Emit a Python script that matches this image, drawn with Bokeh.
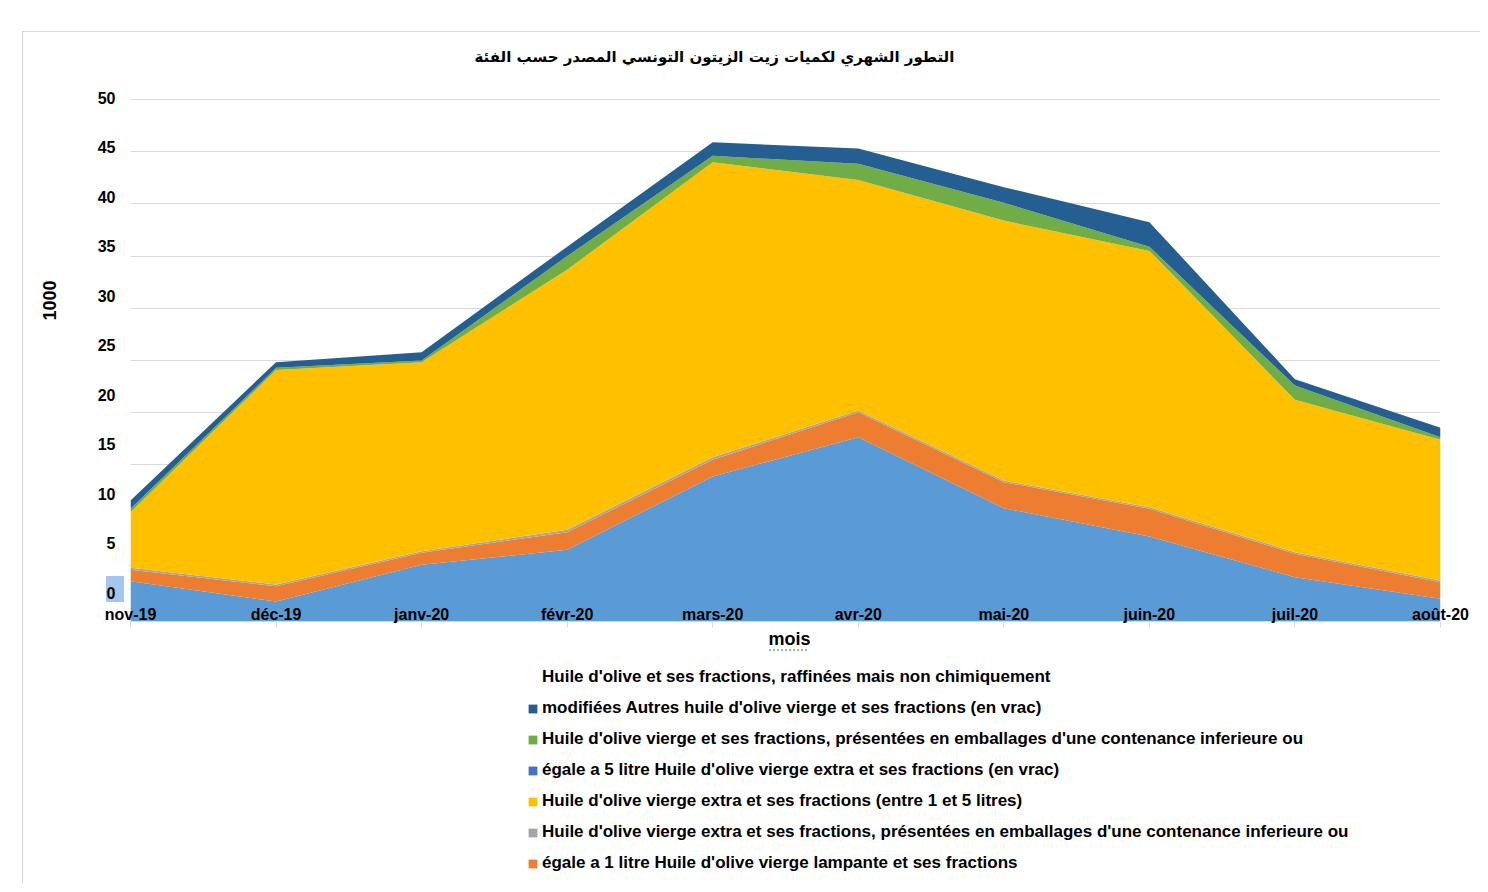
from bokeh.plotting import figure
from bokeh.layouts import column
from bokeh.models import (Range1d, LinearAxis, FixedTicker, Grid, Title,
                          Legend, LegendItem, ColumnDataSource)
from bokeh.embed import file_html
from bokeh.resources import INLINE

# ---------------- data (thousand tonnes) ----------------
months = ["nov-19", "déc-19", "janv-20", "févr-20", "mars-20",
          "avr-20", "mai-20", "juin-20", "juil-20", "août-20"]

lampante      = [3.86, 1.92, 5.43, 6.87, 13.90, 17.65, 10.85, 8.14, 4.25, 2.17]
extra_1l      = [1.09, 1.46, 1.15, 1.68, 1.60, 2.40, 2.50, 2.66, 2.23, 1.60]
extra_1_5l    = [0.19, 0.16, 0.15, 0.23, 0.24, 0.15, 0.15, 0.15, 0.16, 0.16]
extra_vrac    = [5.33, 20.56, 18.11, 24.92, 28.26, 22.10, 24.90, 24.55, 14.61, 13.47]
vierge_5l     = [0.0, 0.0, 0.0, 0.0, 0.0, 0.0, 0.0, 0.0, 0.0, 0.0]
autres_vrac   = [0.33, 0.20, 0.16, 1.30, 0.60, 1.55, 1.70, 0.40, 1.35, 0.25]
raffinee      = [0.80, 0.54, 0.80, 0.90, 1.30, 1.45, 1.50, 2.35, 0.60, 0.90]

y_ticks = [0, 5, 10, 15, 20, 25, 30, 35, 40, 45, 50]

title_text = "التطور الشهري لكميات زيت الزيتون التونسي المصدر حسب الفئة"
x_title = "mois"
y_title = "1000"

legend_lines = [
    "Huile d'olive et ses fractions, raffinées mais non chimiquement",
    "modifiées Autres huile d'olive vierge et ses fractions (en vrac)",
    "Huile d'olive vierge et ses fractions, présentées en emballages d'une contenance inferieure ou",
    "égale a 5 litre Huile d'olive vierge extra et ses fractions (en vrac)",
    "Huile d'olive vierge extra et ses fractions (entre 1 et 5 litres)",
    "Huile d'olive vierge extra et ses fractions, présentées en emballages d'une contenance inferieure ou",
    "égale a 1 litre Huile d'olive vierge lampante et ses fractions",
]

# ---------------- main figure ----------------
FONT = "Liberation Sans"
W, H1, H2 = 1480, 660, 224
ML, MR, MT, MB = 130, 40, 96, 39
FH = H1 - MT - MB           # 525 px
Y_TOP = 50.287              # so that the 50 gridline sits 3px below frame top

p = figure(width=W, height=H1, output_backend="svg", toolbar_location=None,
           x_range=Range1d(0, len(months) - 1), y_range=Range1d(0, Y_TOP),
           x_axis_location=None, y_axis_location=None,
           min_border_left=ML, min_border_right=MR,
           min_border_top=MT, min_border_bottom=MB)
p.outline_line_color = None
p.background_fill_color = "white"
p.border_fill_alpha = 0
for g in p.xgrid:
    g.visible = False
for g in p.ygrid:
    g.visible = False

p.add_layout(Grid(dimension=1, ticker=FixedTicker(ticks=y_ticks),
                  grid_line_color="#D9D9D9", grid_line_width=1))

# stacked areas
src = ColumnDataSource(dict(
    x=list(range(len(months))),
    lampante=lampante, extra_1l=extra_1l, extra_1_5l=extra_1_5l,
    extra_vrac=extra_vrac, vierge_5l=vierge_5l,
    autres_vrac=autres_vrac, raffinee=raffinee))
stackers = ["lampante", "extra_1l", "extra_1_5l", "extra_vrac",
            "vierge_5l", "autres_vrac", "raffinee"]
colors = ["#5B9BD5", "#ED7D31", "#A5A5A5", "#FFC000",
          "#4472C4", "#70AD47", "#255E91"]
p.varea_stack(stackers=stackers, x="x", color=colors, source=src)
col_by = dict(zip(stackers, colors))

# x axis (labels over the bottom of the plot area, as in the original)
xax = LinearAxis(ticker=FixedTicker(ticks=list(range(len(months)))),
                 major_label_overrides={i: m for i, m in enumerate(months)})
xax.axis_line_color = "#D9D9D9"
xax.major_tick_line_color = "#D9D9D9"
xax.major_tick_out = 6
xax.major_tick_in = 0
xax.minor_tick_line_color = None
xax.major_label_standoff = -22
xax.major_label_text_font = FONT
xax.major_label_text_font_style = "bold"
xax.major_label_text_font_size = "16px"
xax.major_label_text_color = "black"
p.add_layout(xax, "below")

# y axis labels (spaced as in the original picture)
px_per_unit = 9.9
lab_start = -29 / px_per_unit
p.extra_y_ranges = {"lbl": Range1d(lab_start, lab_start + FH / px_per_unit)}
yax = LinearAxis(y_range_name="lbl", ticker=FixedTicker(ticks=y_ticks))
yax.axis_line_color = None
yax.major_tick_line_color = None
yax.minor_tick_line_color = None
yax.major_tick_in = 0
yax.major_tick_out = 0
yax.major_label_standoff = 15
yax.major_label_text_font = FONT
yax.major_label_text_font_style = "bold"
yax.major_label_text_font_size = "16px"
yax.major_label_text_color = "black"
p.add_layout(yax, "left")

# chart title
p.title.text = title_text
p.title.align = "left"
p.title.offset = 344
p.title.vertical_align = "middle"
p.title.standoff = 59
p.title.text_font = "DejaVu Sans"
p.title.text_font_style = "bold"
p.title.text_font_size = "15px"
p.title.text_color = "black"

# axis titles
p.add_layout(Title(text=x_title, align="left", offset=638, vertical_align="middle",
                   standoff=4, text_font=FONT, text_font_style="bold",
                   text_font_size="18px", text_color="black"), "below")
p.add_layout(Title(text=y_title, align="left", offset=301, vertical_align="middle",
                   standoff=76, text_font=FONT, text_font_style="bold",
                   text_font_size="18px", text_color="black"), "left")

# ---------------- legend strip ----------------
pl = figure(width=W, height=H2, output_backend="svg", toolbar_location=None,
            x_range=Range1d(0, 1), y_range=Range1d(0, 1),
            x_axis_location=None, y_axis_location=None, min_border=0)
pl.outline_line_color = None
pl.background_fill_alpha = 0
pl.border_fill_alpha = 0
for g in pl.xgrid:
    g.visible = False
for g in pl.ygrid:
    g.visible = False

legend_colors = [None, col_by["raffinee"], col_by["autres_vrac"], col_by["vierge_5l"],
                 col_by["extra_vrac"], col_by["extra_1_5l"], col_by["extra_1l"]]
items = []
for txt, c in zip(legend_lines, legend_colors):
    # proxy glyphs kept outside the visible range: they only feed the legend swatches
    if c is None:
        r = pl.varea(x=[5, 6], y1=[5, 5], y2=[6, 6], fill_alpha=0)
    else:
        r = pl.varea(x=[5, 6], y1=[5, 5], y2=[6, 6], fill_color=c)
    items.append(LegendItem(label=txt, renderers=[r]))
leg = Legend(items=items, location=(397, 10.7),
             label_text_font=FONT, label_text_font_style="bold",
             label_text_font_size="17px", label_text_color="black",
             glyph_width=11, glyph_height=11, label_height=20, label_standoff=4,
             spacing=11, padding=0, margin=0,
             border_line_color=None, background_fill_alpha=0)
pl.add_layout(leg, "center")

border_css = {
    "background-image": ("linear-gradient(#D9D9D9,#D9D9D9), linear-gradient(#D9D9D9,#D9D9D9), "
                         "linear-gradient(#A3C6EC,#A3C6EC), "
                         "repeating-linear-gradient(90deg, #8CC08C 0px, #8CC08C 2px, transparent 2px, transparent 4px)"),
    "background-size": "1px 100%, 100% 1px, 18px 26px, 38px 2px",
    "background-position": "22px 31px, 22px 31px, 106px 576px, 769px 649px",
    "background-repeat": "no-repeat",
}
layout = column(p, pl, spacing=0, styles=border_css)

open("out.html", "w").write(file_html(layout, INLINE))
